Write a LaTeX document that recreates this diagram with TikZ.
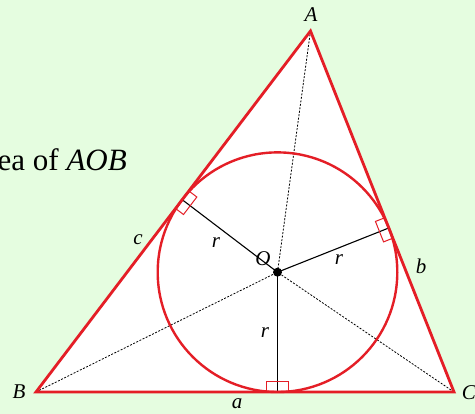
\documentclass[tikz,border=0pt]{standalone}
\usepackage{fontspec}
\setmainfont{Liberation Serif}
\usetikzlibrary{calc}
\definecolor{bg}{RGB}{229,253,224}
\definecolor{myred}{RGB}{228,30,38}
\begin{document}
\begin{tikzpicture}[x=1pt,y=-1pt,
  side/.style={draw=myred,line width=2.8pt,line join=miter},
  incirc/.style={draw=myred,line width=2.4pt},
  bis/.style={draw=black,line width=0.8pt,dash pattern=on 2pt off 1.5pt},
  rad/.style={draw=black,line width=1.1pt},
  ramark/.style={draw=myred,line width=1pt},
  lbl/.style={font=\fontsize{21}{24}\selectfont\itshape,inner sep=0pt},
  big/.style={font=\fontsize{31}{35}\selectfont,inner sep=0pt,anchor=base east}]
\fill[bg] (0,0) rectangle (475,414);
\useasboundingbox (0,0) rectangle (475,414);
\coordinate (A) at (310.5,31);
\coordinate (B) at (36,392);
\coordinate (C) at (454,392);
\coordinate (O) at (277.5,272.2);
\fill[white] (A) -- (B) -- (C) -- cycle;
\coordinate (Ta) at ($(B)!(O)!(C)$);
\coordinate (Tb) at ($(C)!(O)!(A)$);
\coordinate (Tc) at ($(A)!(O)!(B)$);
\draw[bis] (A) -- (O);
\draw[bis] (B) -- (O);
\draw[bis] (C) -- (O);
\draw[rad] (O) -- (Ta);
\draw[rad] (O) -- (Tb);
\draw[rad] (O) -- (Tc);
\foreach \T in {Ta,Tb,Tc}{
  \coordinate (p1) at ($(\T)!11pt!90:(O)$);
  \coordinate (p2) at ($(\T)!11pt!-90:(O)$);
  \coordinate (q) at ($(\T)!10pt!(O)$);
  \draw[ramark] (p1) -- ($(p1)+(q)-(\T)$) -- ($(p2)+(q)-(\T)$) -- (p2);
}
\draw[incirc] (O) circle (119.8);
\draw[side] (A) -- (B) -- (C) -- cycle;
\fill[black] (O) circle (4.5);
\node[lbl] (lA) at (311,15) {A};
\node[lbl] (lB) at (19,392) {B};
\node[lbl] (lC) at (469,393) {C};
\node[lbl] (la) at (237,404) {a};
\node[lbl] (lb) at (421,266) {b};
\node[lbl] (lc) at (138,240) {c};
\node[lbl] (lO) at (263,259) {O};
\node[lbl] (r1) at (216,243) {r};
\node[lbl] (r2) at (339,260) {r};
\node[lbl] (r3) at (265,333) {r};
\node[big] (txt) at (127,171) {ea of \textit{AOB}};
\end{tikzpicture}
\end{document}
